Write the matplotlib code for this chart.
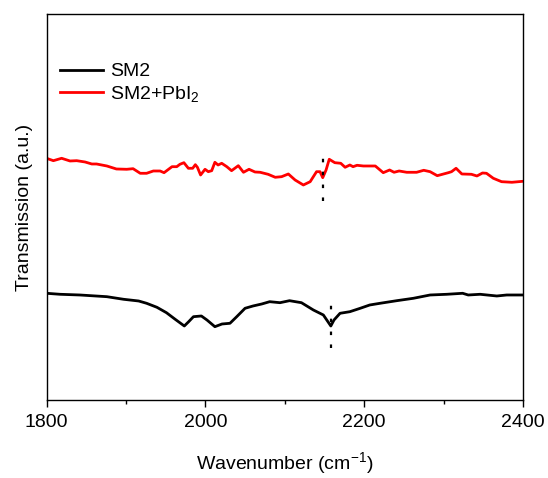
import matplotlib.pyplot as plt
import numpy as np

plt.rcParams['font.family'] = ['Liberation Sans', 'DejaVu Sans']
plt.rcParams['mathtext.fontset'] = 'custom'
plt.rcParams['mathtext.rm'] = 'Liberation Sans'
plt.rcParams['mathtext.it'] = 'Liberation Sans'

# SM2 spectrum (wavenumber, transmission a.u.)
sm2_wn = [1800, 1817, 1842, 1876, 1897, 1916, 1926, 1939, 1951, 1962, 1973.5,
          1979, 1985, 1995, 2002, 2012, 2021, 2031, 2039.5, 2050, 2060, 2071,
          2081, 2094, 2106, 2121, 2136, 2148.6, 2158, 2162, 2169.6, 2182, 2195,
          2207, 2220, 2241, 2262, 2283, 2304, 2324, 2331, 2346, 2367, 2379.5, 2400]
sm2_t = [106.7, 105.7, 105, 103.3, 100.7, 99, 96.7, 92.7, 87.3, 80.7, 74,
         78.3, 83.3, 84, 80, 73.3, 76, 76.7, 83.3, 91.7, 94, 96,
         98.3, 97.3, 99.3, 97.3, 90, 85, 74, 80, 86.7, 88.3, 91.7,
         95, 96.7, 99.3, 101.7, 105, 105.7, 106.7, 105, 105.7, 104, 105, 105]

# SM2+PbI2 spectrum
pb_wn = [1800, 1808.6, 1819, 1829.6, 1838, 1848.5, 1857, 1863, 1876, 1888, 1901,
         1909, 1918, 1926, 1934.5, 1943, 1948, 1958, 1964, 1968, 1973, 1978.6,
         1984, 1987.4, 1990, 1994, 1999.6, 2003.7, 2008, 2012, 2016, 2020.6,
         2027, 2033, 2041.5, 2048, 2055, 2062.5, 2069, 2079, 2088, 2096, 2104.5,
         2113, 2123.4, 2132, 2140, 2144.4, 2147.8, 2152, 2156, 2163, 2170.5,
         2176, 2182, 2186, 2191, 2199, 2214, 2224, 2232, 2237.6, 2244, 2253.6,
         2266, 2275, 2283, 2292, 2306, 2310, 2315.7, 2323, 2335, 2342, 2349,
         2354, 2362.6, 2373, 2386, 2400]
pb_t = [241.7, 239.3, 241.7, 239, 239.3, 238, 236, 236, 234, 231, 230.7,
        231.3, 226.7, 226.7, 229, 229, 227.3, 233.3, 233.3, 235.7, 237.3, 231.7,
        231.7, 235.3, 232.7, 225, 230.7, 228.3, 229.3, 237.7, 235, 236.7,
        233.3, 229.3, 234.3, 227.7, 230.7, 228, 227.7, 225.7, 222.7, 223.3, 226,
        220, 215, 218.3, 228.3, 228.3, 222.3, 230, 240.7, 237.3, 236.7,
        232.7, 235, 233.3, 234.7, 234, 234, 227.3, 230, 227.7, 229, 227.7,
        227.7, 229.7, 228.3, 224.3, 227.3, 228.3, 231.7, 226, 225.7, 224, 227,
        226.7, 221.7, 218.3, 217.7, 218.7]

# marker lines for the C-N band
mark_wn = [2158, 2148]
mark_lo = [51.7, 199.3]
mark_hi = [100.7, 248.3]

fig = plt.figure(figsize=(5.48, 4.78), dpi=100)
ax = fig.add_axes([0.0849, 0.1632, 0.8695, 0.8065])

ax.plot(sm2_wn, sm2_t, color='black', lw=2.0, label='SM2')
ax.plot(pb_wn, pb_t, color='#ff0000', lw=2.0, label='SM2+PbI$_2$')

for w, lo, hi in zip(mark_wn, mark_lo, mark_hi):
    ax.plot([w, w], [lo, hi], color='black', lw=1.6, linestyle=(0, (1.6, 4.2)))

ax.set_xlim(1800, 2400)
ax.set_ylim(0, 385.5)
ax.set_xticks([1800, 2000, 2200, 2400])
ax.set_xticks([1900, 2100, 2300], minor=True)
ax.set_yticks([])
ax.tick_params(axis='x', which='major', direction='out', length=5, width=1, labelsize=14, pad=5)
ax.tick_params(axis='x', which='minor', direction='out', length=3, width=1)
for s in ax.spines.values():
    s.set_linewidth(1.0)

ax.set_xlabel('Wavenumber (cm$^{-1}$)', fontsize=14, labelpad=14)
ax.set_ylabel('Transmission (a.u.)', fontsize=14, labelpad=10)

ax.legend(loc='upper left', frameon=False, fontsize=14, handlelength=2.2,
          handletextpad=0.35, labelspacing=0.2, borderaxespad=0.3,
          bbox_to_anchor=(0.0, 0.910))

fig.savefig('out.png', dpi=100)
